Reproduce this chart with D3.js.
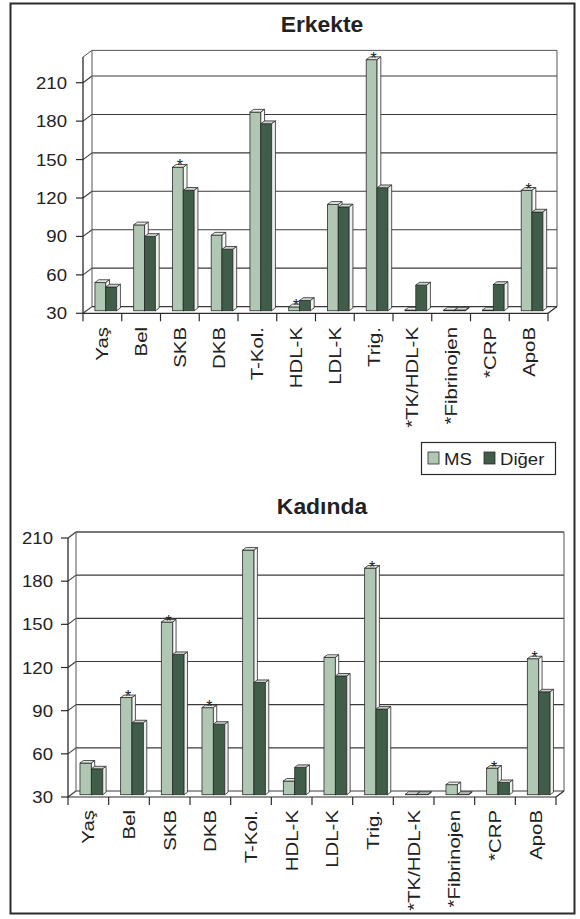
<!DOCTYPE html>
<html>
<head>
<meta charset="utf-8">
<script src="https://cdn.jsdelivr.net/npm/d3@7"></script>
<style>
  body { margin: 0; background: #fff; }
  svg { display: block; }
  text { font-family: "Liberation Sans", Arial, sans-serif; fill: #222; }
</style>
</head>
<body>
<svg id="chart" width="580" height="919"></svg>
<script>
const categories = ["Yaş", "Bel", "SKB", "DKB", "T-Kol.", "HDL-K", "LDL-K", "Trig.", "*TK/HDL-K", "*Fibrinojen", "*CRP", "ApoB"];
const series = ["MS", "Diğer"];
const yTicks = [30, 60, 90, 120, 150, 180, 210];

// Erkekte
const erkekMS    = [52, 97, 142, 89, 185, 33, 113, 226, 30.5, 30.5, 30.5, 124];
const erkekDiger = [48.5, 88, 124, 78, 176, 38, 111, 126, 50, 30.5, 50.5, 107];
const erkekStars = ["SKB", "HDL-K", "Trig.", "ApoB"];

// Kadında
const kadinMS    = [52, 97.5, 150, 90.5, 200, 39.5, 125.5, 187.5, 30.3, 37, 48.5, 124.5];
const kadinDiger = [48, 80, 127.5, 79, 108, 49, 112.5, 89.5, 30.3, 30.3, 38.5, 101.5];
const kadinStars = ["Bel", "SKB", "DKB", "Trig.", "*CRP", "ApoB"];

const colors = {
  MS:    { front: "#b0c8b3", top: "#e4ebe4", side: "#f6f7f6" },
  "Diğer": { front: "#3f5d49", top: "#c9d3cb", side: "#eef0ee" }
};
const ink = "#2b2b2b";
const stretch = 1.16;

const svg = d3.select("#chart");

// outer frame
svg.append("rect")
  .attr("x", 10.5).attr("y", 3.5).attr("width", 564).attr("height", 910)
  .attr("fill", "none").attr("stroke", ink).attr("stroke-width", 2);

function drawChart(opt) {
  const { title, titleY, ms, diger, stars, x0, x1, yBase, y210, yMax, dx, dy, labelY, tickLabelX } = opt;
  const g = svg.append("g");

  const x = d3.scaleBand().domain(categories).range([x0, x1]).paddingInner(0).paddingOuter(0);
  const y = d3.scaleLinear().domain([30, 210]).range([yBase, y210]);
  const inner = d3.scaleBand().domain(series).range([0, x.bandwidth() * 0.56]);
  const groupOff = (x.bandwidth() - x.bandwidth() * 0.56) / 2;

  const line = (ax, ay, bx, by, w = 1, c = ink) =>
    g.append("line").attr("x1", ax).attr("y1", ay).attr("x2", bx).attr("y2", by)
      .attr("stroke", c).attr("stroke-width", w);

  // title
  g.append("text").attr("x", 322).attr("y", titleY).attr("text-anchor", "middle")
    .attr("font-size", 22).attr("font-weight", "bold")
    .attr("transform", `translate(322,0) scale(1.04,1) translate(-322,0)`).text(title);

  // back wall gridlines + side wall
  yTicks.forEach(t => {
    line(x0 + dx, y(t) + dy, x1 + dx, y(t) + dy, 1.1, "#3a3a3a");
    line(x0, y(t), x0 + dx, y(t) + dy, 1.1, "#3a3a3a");
  });
  const top = y(yMax);
  line(x0 + dx, top + dy, x1 + dx, top + dy, 1, "#555");
  line(x0, top, x0 + dx, top + dy, 1, "#555");
  line(x0 + dx, yBase + dy, x0 + dx, top + dy, 1, "#555");
  line(x1 + dx, yBase + dy, x1 + dx, top + dy, 1, "#555");
  // floor
  line(x0, yBase, x1, yBase, 1.2);
  line(x1, yBase, x1 + dx, yBase + dy, 1.2);
  // y axis
  line(x0, yBase, x0, top, 1.3);
  yTicks.forEach(t => {
    line(x0 - 7, y(t), x0, y(t), 1.2);
    g.append("text")
      .attr("transform", `translate(${tickLabelX},${y(t) + 6}) scale(${stretch},1)`)
      .attr("text-anchor", "end").attr("font-size", 16).text(t);
  });
  // x ticks
  categories.forEach(c => line(x(c), yBase, x(c), yBase + 8, 1.2));
  line(x1, yBase, x1, yBase + 8, 1.2);

  // bars
  const f1 = 0.38, f2 = 0.8;
  const bx = dx * f1, by = dy * f1;
  const sx = dx * (f2 - f1), sy = dy * (f2 - f1);
  categories.forEach((c, i) => {
    [ms[i], diger[i]].forEach((v, k) => {
      const s = series[k];
      const left = x(c) + groupOff + inner(s) + bx;
      const w = inner.bandwidth();
      const yt = y(v) + by, yb = yBase + by;
      const col = colors[s];
      g.append("rect").attr("x", left).attr("y", yt).attr("width", w).attr("height", Math.max(0, yb - yt))
        .attr("fill", col.front).attr("stroke", ink).attr("stroke-width", 0.8);
      g.append("path")
        .attr("d", `M${left},${yt}L${left + sx},${yt + sy}L${left + w + sx},${yt + sy}L${left + w},${yt}Z`)
        .attr("fill", col.top).attr("stroke", ink).attr("stroke-width", 0.8);
      g.append("path")
        .attr("d", `M${left + w},${yt}L${left + w + sx},${yt + sy}L${left + w + sx},${yb + sy}L${left + w},${yb}Z`)
        .attr("fill", col.side).attr("stroke", ink).attr("stroke-width", 0.8);
      if (k === 0 && stars.includes(c)) {
        g.append("text").attr("x", left + w / 2 + sx / 2).attr("y", yt + sy + 7)
          .attr("text-anchor", "middle").attr("font-size", 16).attr("fill", "#111").text("*");
      }
    });
  });

  // category labels
  categories.forEach(c => {
    g.append("text")
      .attr("transform", `translate(${x(c) + x.bandwidth() / 2 + 6},${labelY}) rotate(-90) scale(1.2,1)`)
      .attr("text-anchor", "end").attr("font-size", 17).text(c);
  });
}

drawChart({
  title: "Erkekte", titleY: 32, ms: erkekMS, diger: erkekDiger, stars: erkekStars,
  x0: 83, x1: 548, yBase: 313.3, y210: 82.7, yMax: 230, dx: 9, dy: -6.7,
  labelY: 327, tickLabelX: 67
});

drawChart({
  title: "Kadında", titleY: 514, ms: kadinMS, diger: kadinDiger, stars: kadinStars,
  x0: 68, x1: 556, yBase: 797, y210: 538, yMax: 210, dx: 8, dy: -6,
  labelY: 810, tickLabelX: 53
});

// legend
const lg = svg.append("g");
lg.append("rect").attr("x", 421.5).attr("y", 442.5).attr("width", 134).attr("height", 32)
  .attr("fill", "#fff").attr("stroke", ink).attr("stroke-width", 1.2);
const legendX = { MS: 428, "Diğer": 484 };
series.forEach(s => {
  lg.append("rect").attr("x", legendX[s]).attr("y", 452).attr("width", 11).attr("height", 12)
    .attr("fill", colors[s].front).attr("stroke", ink).attr("stroke-width", 0.8);
  lg.append("text")
    .attr("transform", `translate(${legendX[s] + 16},465) scale(${stretch},1)`)
    .attr("font-size", 16).text(s);
});
</script>
</body>
</html>
